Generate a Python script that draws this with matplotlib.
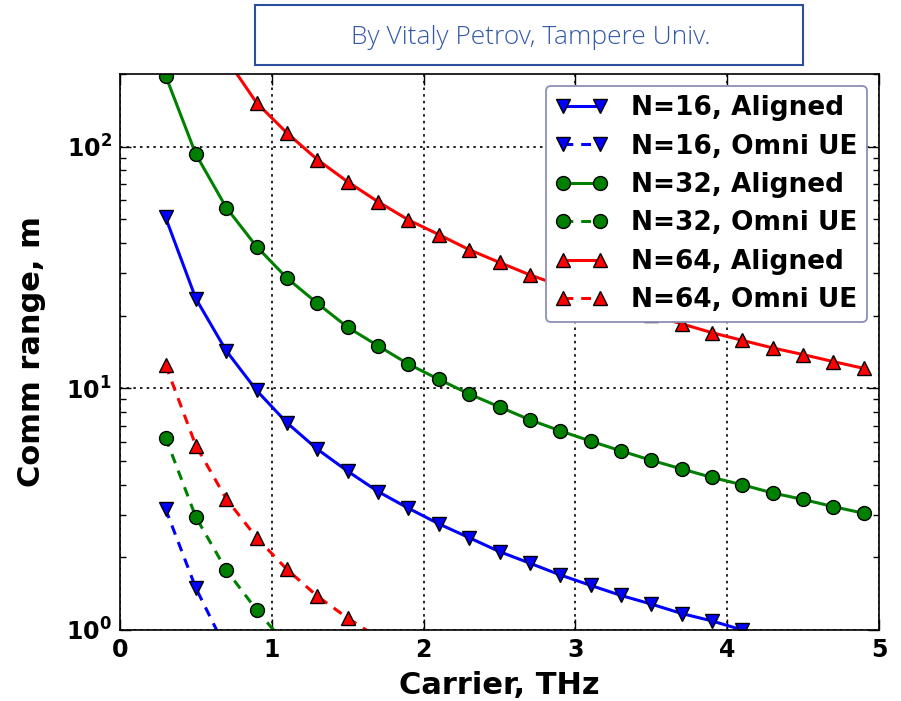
import numpy as np
import matplotlib.pyplot as plt
from matplotlib.patches import Rectangle

# carrier frequency, THz
f_full = [0.3, 0.5, 0.7, 0.9, 1.1, 1.3, 1.5, 1.7, 1.9, 2.1, 2.3, 2.5, 2.7,
          2.9, 3.1, 3.3, 3.5, 3.7, 3.9, 4.1, 4.3, 4.5, 4.7, 4.9]

# comm range, m (aligned beams)
r16_al = [51, 23.5, 14.3, 9.8, 7.2, 5.6, 4.54, 3.74, 3.19, 2.75, 2.41, 2.11,
          1.89, 1.69, 1.53, 1.39, 1.28, 1.17, 1.09, 1.0]
r32_al = [197, 93, 56, 38.6, 28.6, 22.5, 17.9, 15.0, 12.6, 10.9, 9.48, 8.38,
          7.41, 6.67, 6.05, 5.51, 5.04, 4.64, 4.28, 3.99, 3.69, 3.47, 3.24, 3.04]
f64_al = f_full[2:]
r64_al = [232, 152, 114, 88.5, 71.6, 59.2, 49.8, 43.3, 37.5, 33.2, 29.5,
          26.6, 24.1, 22.0, 20.1, 18.5, 17.0, 15.8, 14.7, 13.8, 12.9, 12.1]

# comm range, m (omni UE)
r16_om = [3.17, 1.49, 0.83]
r32_om = [6.26, 2.93, 1.77, 1.21, 0.86]
r64_om = [12.5, 5.79, 3.49, 2.41, 1.78, 1.38, 1.12, 0.93]

fig = plt.figure(figsize=(9.01, 7.01), dpi=100)
ax = fig.add_axes([0.1332, 0.1013, 0.8424, 0.7931])

mk = dict(markersize=10, markeredgecolor='k', markeredgewidth=1, lw=2.2)
dash = (0, (3.2, 2.6))

ax.semilogy(f_full[:len(r16_al)], r16_al, '-v', color='blue', label='N=16, Aligned', **mk)
ax.semilogy(f_full[:len(r16_om)], r16_om, 'v', ls=dash, color='blue', label='N=16, Omni UE', **mk)
ax.semilogy(f_full, r32_al, '-o', color='green', label='N=32, Aligned', **mk)
ax.semilogy(f_full[:len(r32_om)], r32_om, 'o', ls=dash, color='green', label='N=32, Omni UE', **mk)
ax.semilogy(f64_al, r64_al, '-^', color='red', label='N=64, Aligned', **mk)
ax.semilogy(f_full[:len(r64_om)], r64_om, '^', ls=dash, color='red', label='N=64, Omni UE', **mk)

ax.set_xlim(0, 5)
ax.set_ylim(1, 200)
ax.set_xticks([0, 1, 2, 3, 4, 5])
ax.grid(True, which='major', color='k', ls=(0, (1.5, 2.5)), lw=1.2)
ax.tick_params(which='both', direction='in', top=True, right=True,
               labelsize=17, pad=6)
ax.tick_params(which='major', length=8, width=1)
ax.tick_params(which='minor', length=4, width=1)
for lab in ax.get_xticklabels() + ax.get_yticklabels():
    lab.set_fontweight('bold')
for sp in ax.spines.values():
    sp.set_linewidth(1.2)

ax.set_xlabel('Carrier, THz', fontsize=22, fontweight='bold', labelpad=6)
ax.set_ylabel('Comm range, m', fontsize=22, fontweight='bold', labelpad=14)

leg = ax.legend(loc='upper right', numpoints=2, fancybox=True, framealpha=1,
                prop=dict(size=19, weight='bold'), labelspacing=0.47,
                handlelength=2.0, handletextpad=0.9, borderaxespad=0.45,
                borderpad=0.35)
leg.get_frame().set_edgecolor('#8a90b8')
leg.get_frame().set_linewidth(1.3)

# credit box on top
fig.patches.append(Rectangle((255/901, 1-65/701), 548/901, 60/701,
                             transform=fig.transFigure, fill=False,
                             edgecolor='#2b4f9e', lw=1.5))
fig.text(531/901, 1-37/701, 'By Vitaly Petrov, Tampere Univ.',
         ha='center', va='center', fontsize=19, color='#3359a8',
         family='Open Sans', fontweight='light')

fig.savefig('out.png', dpi=100)
